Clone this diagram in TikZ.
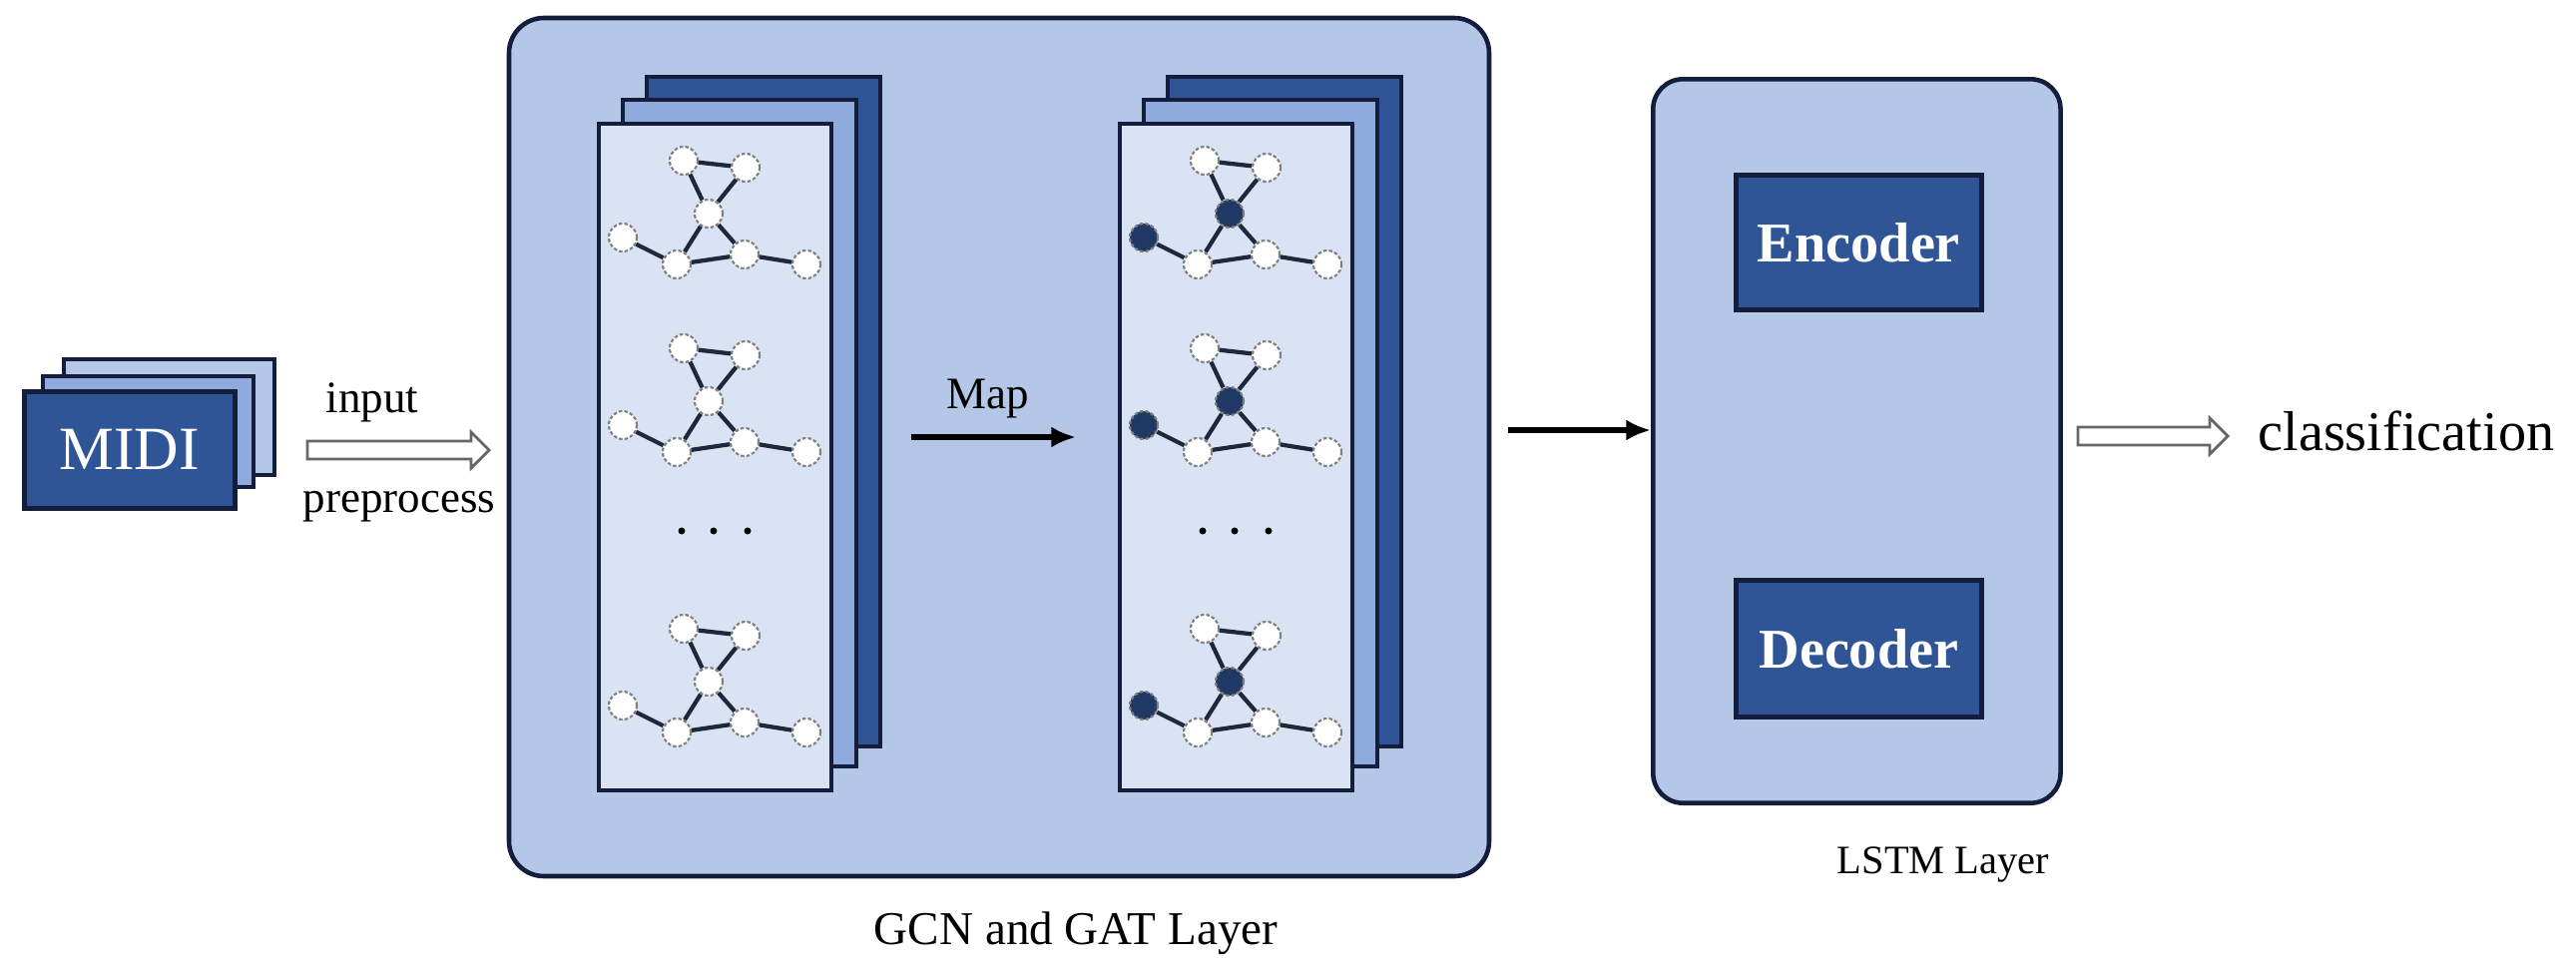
\documentclass[tikz,border=0pt]{standalone}
\usetikzlibrary{arrows.meta}
\usepackage{fontspec}
\setmainfont{Liberation Serif}
\begin{document}
\begin{tikzpicture}[x=0.01cm,y=-0.01cm,
  dark/.style={fill={rgb,255:red,47;green,85;blue,151}},
  mid/.style={fill={rgb,255:red,143;green,170;blue,220}},
  lite/.style={fill={rgb,255:red,218;green,227;blue,243}},
  bg/.style={fill={rgb,255:red,180;green,199;blue,231}},
  edge/.style={draw={rgb,255:red,30;green,40;blue,60},line width=1.2pt},
  card/.style={draw={rgb,255:red,20;green,30;blue,60},line width=1.3pt},
  gn/.style={circle,draw=gray,dash pattern=on 1pt off 0.6pt,line width=0.6pt,fill=white,minimum size=0.28cm,inner sep=0},
  gd/.style={circle,draw=gray,dash pattern=on 1pt off 0.6pt,line width=0.6pt,fill={rgb,255:red,31;green,56;blue,100},minimum size=0.28cm,inner sep=0},
  hollow/.style={draw=gray!80!black,line width=0.8pt,fill=white},
  arr/.style={line width=1.6pt,-{Latex[length=7pt,width=6pt]}}]
\useasboundingbox (0,0) rectangle (2581,969);
% MIDI
\draw[card,bg] (64,360) rectangle (275,476);
\draw[card,mid] (43,377) rectangle (254,488);
\node[card,dark,draw,minimum width=2.11cm,minimum height=1.17cm,inner sep=0,anchor=north west,text=white,font=\fontsize{17.5}{17.5}\selectfont] (midi) at (22,390) {MIDI};
\draw[hollow] (308,442) -- (472,442) -- (472,433) -- (490,451) -- (472,469) -- (472,460) -- (308,460) -- cycle;
\node[font=\fontsize{12.8}{12.8}\selectfont] (inp) at (373,403) {input};
\node[font=\fontsize{12.8}{12.8}\selectfont] (pre) at (400,508) {preprocess};
% GCN box
\draw[card,bg,rounded corners=0.35cm] (510,18) rectangle (1492,878);
\node[font=\fontsize{13.4}{13.4}\selectfont] (gl) at (1078,935) {GCN and GAT Layer};
% stacks
\foreach \dx/\st in {0/gn,522/gd}{
  \begin{scope}[xshift=\dx*0.01cm]
  \draw[card,dark] (648,77) rectangle (882,748);
  \draw[card,mid] (624,100) rectangle (858,768);
  \draw[card,lite] (600,124) rectangle (833,792);
  \foreach \oy in {0,188,469}{
    \begin{scope}[yshift=-\oy*0.01cm]
    \node[gn] (a) at (685,161) {};
    \node[gn] (b) at (747,168) {};
    \node[\st] (c) at (710,214) {};
    \node[\st] (d) at (624,238) {};
    \node[gn] (e) at (678,265) {};
    \node[gn] (f) at (746,255) {};
    \node[gn] (g) at (808,265) {};
    \draw[edge] (a)--(b) (a)--(c) (b)--(c) (c)--(e) (c)--(f) (d)--(e) (e)--(f) (f)--(g);
    \end{scope}}
  \foreach \px in {683,715,749}{\fill (\px,532) circle (0.035cm);}
  \end{scope}}
\coordinate (m1) at (913,438);
\coordinate (m2) at (1078,438);
\draw[arr] (m1) -- (m2);
\node[font=\fontsize{12.8}{12.8}\selectfont] (map) at (990,400) {Map};
% LSTM
\node[card,bg,draw,rounded corners=0.3cm,minimum width=4.08cm,minimum height=7.25cm,inner sep=0,anchor=north west] (lstm) at (1654,77) {};
\coordinate (l1) at (1511,431);
\draw[arr] (l1) -- (lstm.west|-l1);
\node[card,dark,draw,minimum width=2.46cm,minimum height=1.35cm,inner sep=0,anchor=north west,text=white,font=\bfseries\fontsize{16}{16}\selectfont] (enc) at (1737,173) {Encoder};
\node[card,dark,draw,minimum width=2.46cm,minimum height=1.37cm,inner sep=0,anchor=north west,text=white,font=\bfseries\fontsize{16}{16}\selectfont] (dec) at (1737,579) {Decoder};
\node[font=\fontsize{11.5}{11.5}\selectfont] (ll) at (1947,866) {LSTM Layer};
\draw[hollow] (2082,428) -- (2214,428) -- (2214,419) -- (2232,437) -- (2214,455) -- (2214,446) -- (2082,446) -- cycle;
\node[font=\fontsize{16}{16}\selectfont,anchor=west] (cls) at (2250,432) {classification};
\end{tikzpicture}
\end{document}
